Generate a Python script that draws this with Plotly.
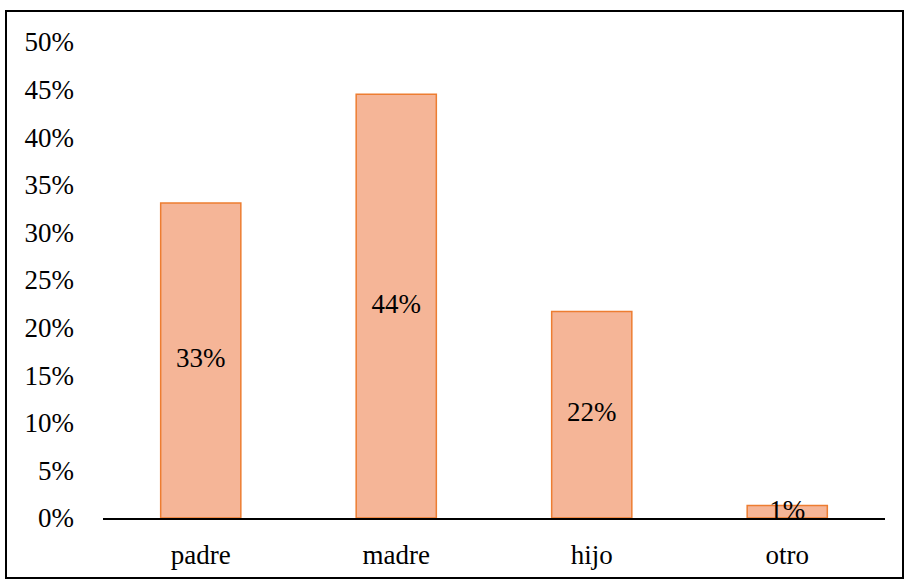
import plotly.graph_objects as go

# data
categories = ["padre", "madre", "hijo", "otro"]
shares = [0.331, 0.445, 0.217, 0.013]
share_labels = ["33%", "44%", "22%", "1%"]
y_ticks = [0, 0.05, 0.10, 0.15, 0.20, 0.25, 0.30, 0.35, 0.40, 0.45, 0.50]

font_name = "Liberation Serif"

fig = go.Figure()

fig.add_trace(go.Bar(
    x=categories,
    y=shares,
    marker=dict(color="#F5B597", line=dict(color="#ED7D31", width=1.5)),
    showlegend=False,
    hoverinfo="skip"))

# value labels in the middle of each bar
fig.add_trace(go.Scatter(
    x=categories,
    y=[v / 2 for v in shares],
    text=share_labels,
    mode="text",
    textposition="middle center",
    textfont=dict(family=font_name, size=27, color="black"),
    cliponaxis=False,
    showlegend=False,
    hoverinfo="skip"))

# plot area in pixels: x 103..885, y 42..518
W, H = 904, 581
L, R, T, B = 103, 19, 42, 63
pw, ph = W - L - R, H - T - B

def px_x(p):
    return (p - L) / pw

def px_y(p):
    return (H - B - p) / ph

fig.add_shape(type="rect", xref="paper", yref="paper",
              x0=px_x(6), x1=px_x(903), y0=px_y(578), y1=px_y(11),
              line=dict(color="black", width=2), layer="below")

fig.update_layout(
    width=W, height=H,
    margin=dict(l=L, r=R, t=T, b=B),
    paper_bgcolor="white",
    plot_bgcolor="white",
    bargap=0.59,
    font=dict(family=font_name, size=27, color="black"))

fig.update_xaxes(
    showline=True, linecolor="black", linewidth=1.5,
    showgrid=False, ticks="", ticklabelstandoff=12,
    tickfont=dict(family=font_name, size=27, color="black"))

fig.update_yaxes(
    range=[0, 0.5], tickvals=y_ticks, tickformat=".0%",
    showline=False, showgrid=False, zeroline=False, ticks="",
    ticklabelstandoff=28,
    tickfont=dict(family=font_name, size=27, color="black"))

# drop the default page margin so the figure sits at the window's corner
fig.write_html("out.html",
               config={"displayModeBar": False},
               post_script="document.body.style.margin='0';document.body.style.overflow='hidden';")
